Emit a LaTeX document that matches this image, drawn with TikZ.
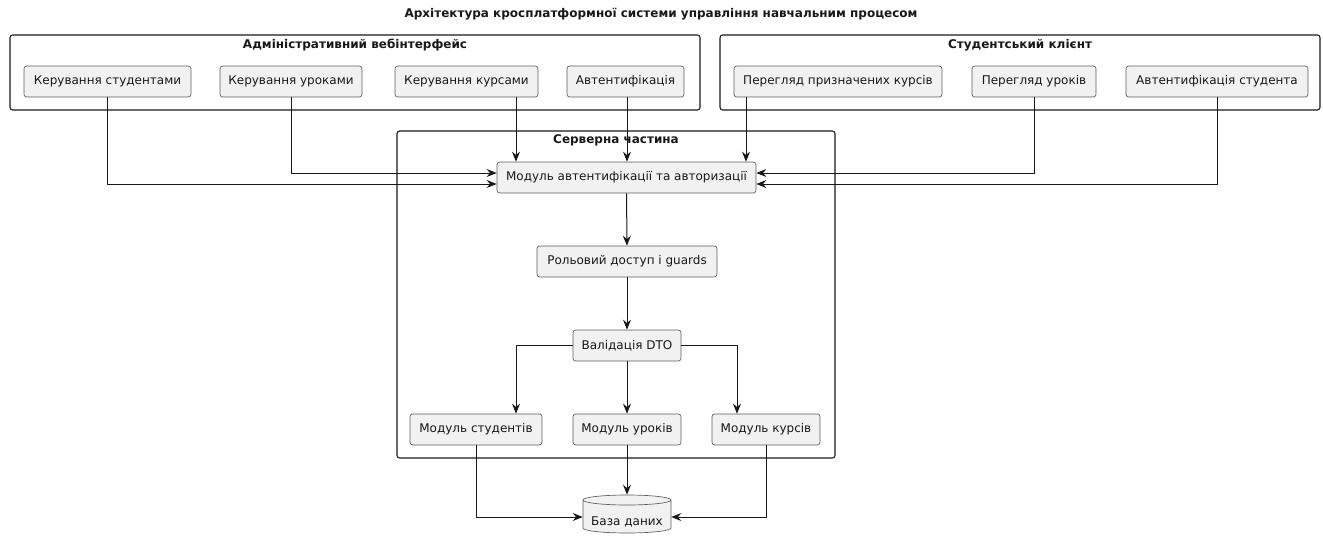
\documentclass[tikz,border=0pt]{standalone}
\usepackage{fontspec}
\setmainfont{DejaVu Sans}
\usetikzlibrary{arrows.meta,calc}
\definecolor{nodefill}{HTML}{F1F1F1}
\definecolor{linec}{HTML}{181818}
\tikzset{
  nb/.style={draw=linec!70, line width=0.5pt, fill=nodefill, rounded corners=2pt,
    minimum height=31*0.75pt, minimum width=#1*0.75pt, inner sep=0pt, font=\fontsize{9}{11}\selectfont, text=linec},
  grp/.style={draw=linec, line width=0.8pt, rounded corners=2pt},
  gtitle/.style={font=\bfseries\fontsize{9}{11}\selectfont, text=linec},
  conn/.style={draw=linec, line width=0.75pt, -{Stealth[length=7.5pt,width=6pt,inset=2.5pt]}},
}
\begin{document}
\begin{tikzpicture}[x=0.75pt,y=-0.75pt]
\useasboundingbox (0,0) rectangle (1323,535);
% title
\node[gtitle] (title) at (661,14) {Архітектура кросплатформної системи управління навчальним процесом};
% groups
\draw[grp] (10,35) rectangle (700,110);
\node[gtitle] (gadm) at (355,45) {Адміністративний вебінтерфейс};
\draw[grp] (720,35) rectangle (1320,110);
\node[gtitle] (gstu) at (1020,45) {Студентський клієнт};
\draw[grp] (397,131) rectangle (835,458);
\node[gtitle] (gsrv) at (616,140) {Серверна частина};
% admin nodes
\node[nb=167] (a1) at (107.5,81.5) {Керування студентами};
\node[nb=142] (a2) at (291,81.5) {Керування уроками};
\node[nb=143] (a3) at (466.5,81.5) {Керування курсами};
\node[nb=117] (a4) at (625.5,81.5) {Автентифікація};
% student nodes
\node[nb=208] (s1) at (838,81.5) {Перегляд призначених курсів};
\node[nb=124] (s2) at (1034,81.5) {Перегляд уроків};
\node[nb=182] (s3) at (1217,81.5) {Автентифікація студента};
% server nodes
\node[nb=259] (auth) at (626.5,177.5) {Модуль автентифікації та авторизації};
\node[nb=180] (role) at (627,261.5) {Рольовий доступ і guards};
\node[nb=108] (dto) at (627,345.5) {Валідація DTO};
\node[nb=132] (m1) at (476,429.5) {Модуль студентів};
\node[nb=108] (m2) at (627,429.5) {Модуль уроків};
\node[nb=108] (m3) at (766,429.5) {Модуль курсів};
% database
\fill[nodefill] (583,500) -- (583,528) arc[start angle=180,end angle=360,x radius=33pt,y radius=3.75pt] -- (671,500) arc[start angle=0,end angle=180,x radius=33pt,y radius=3.75pt] -- cycle;
\draw[linec!70, line width=0.5pt] (583,500) -- (583,528) arc[start angle=180,end angle=360,x radius=33pt,y radius=3.75pt] -- (671,500) arc[start angle=0,end angle=180,x radius=33pt,y radius=3.75pt] arc[start angle=180,end angle=360,x radius=33pt,y radius=3.75pt];
\node[inner sep=0pt, minimum width=88*0.75pt, minimum height=38*0.75pt] (db) at (627,514) {};
\node[font=\fontsize{9}{11}\selectfont, text=linec] (dbl) at (627,522) {База даних};
% connectors
\draw[conn] (a1.south) |- ($(auth.west)+(0,6.5)$);
\draw[conn] (a2.south) |- ($(auth.west)+(0,-4.5)$);
\draw[conn] ($(a3.south)+(49.5,0)$) -- ($(a3.south |- auth.north)+(49.5,0)$);
\draw[conn] ($(a4.south)+(1.5,0)$) -- ($(a4.south |- auth.north)+(1.5,0)$);
\draw[conn] ($(s1.south)+(-92,0)$) -- ($(s1.south |- auth.north)+(-92,0)$);
\draw[conn] (s2.south) |- ($(auth.east)+(0,-4.5)$);
\draw[conn] (s3.south) |- ($(auth.east)+(0,6.5)$);
\draw[conn] (auth) -- (role);
\draw[conn] (role) -- (dto);
\draw[conn] (dto.west) -| ($(m1.north)+(40,0)$);
\draw[conn] (dto) -- (m2);
\draw[conn] (dto.east) -| ($(m3.north)+(-29,0)$);
\draw[conn] (m1.south) |- ($(db.west)+(0,3)$);
\draw[conn] (m2) -- (db);
\draw[conn] (m3.south) |- ($(db.east)+(0,3)$);
\end{tikzpicture}
\end{document}
